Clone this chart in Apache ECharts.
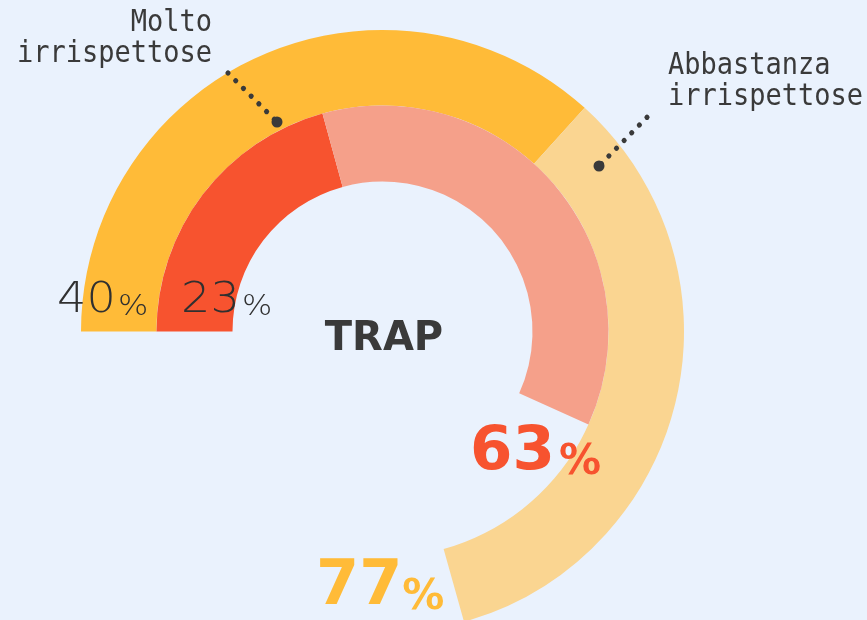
<!DOCTYPE html>
<html>
<head>
<meta charset="utf-8">
<script src="https://cdn.jsdelivr.net/npm/echarts@6/dist/echarts.min.js"></script>
<style>
html,body{margin:0;padding:0;background:#EAF2FD;}
#chart{width:867px;height:620px;}
</style>
</head>
<body>
<div id="chart"></div>
<script>
// Data
var categories = ['Molto irrispettose', 'Abbastanza irrispettose'];
var outerValues = [40, 37];   // outer ring: "Molto" 40%, "Abbastanza" 37% (total 77%)
var innerValues = [23, 40];   // inner ring: "Molto" 23%, "Abbastanza" 40% (total 63%)
var outerScaleMax = 109;      // value that would complete a full circle on outer ring
var innerScaleMax = 111;      // value that would complete a full circle on inner ring
var outerLabels = ['40', '77'];
var innerLabels = ['23', '63'];
var centerTitle = 'TRAP';

var outerColors = ['#FFBB38', '#FAD591'];
var innerColors = ['#F7532F', '#F5A08A'];
var textColor = '#3A3A3A';

function sum(a){return a.reduce(function(s,v){return s+v;},0);}
function ringData(vals, colors, max){
  var d = vals.map(function(v,i){return {name:categories[i], value:v, itemStyle:{color:colors[i]}};});
  d.push({name:'rest', value:max-sum(vals), itemStyle:{color:'rgba(0,0,0,0)'}});
  return d;
}

var cx = 382.5, cy = 331.5;
var chart = echarts.init(document.getElementById('chart'), null, {renderer:'canvas'});

var monoFont = '"DejaVu Sans Mono", monospace';
var thinFont = '"DejaVu Sans", sans-serif';
var boldFont = '"DejaVu Sans", sans-serif';

function thinRich(){
  return {n:{font:'200 42px '+thinFont, fill:'#303030', verticalAlign:'bottom'},
          p:{font:'200 29px '+thinFont, fill:'#303030', verticalAlign:'bottom', padding:[0,0,0,2]}};
}

var graphics = [
  // leader lines
  {type:'line', shape:{x1:228, y1:73, x2:277, y2:122},
   style:{stroke:textColor, lineWidth:5.2, lineCap:'round', lineDash:[0.01, 10.9]}},
  {type:'circle', shape:{cx:277, cy:122, r:5.5}, style:{fill:textColor}},
  {type:'line', shape:{x1:647, y1:117.3, x2:599, y2:166},
   style:{stroke:textColor, lineWidth:5.2, lineCap:'round', lineDash:[0.01, 10.85]}},
  {type:'circle', shape:{cx:599, cy:166, r:5.5}, style:{fill:textColor}},
  // category labels
  {type:'text', x:212, y:8, scaleX:0.9, style:{text:'Molto\nirrispettose', font:'30px '+monoFont, fill:textColor,
    align:'right', verticalAlign:'top', lineHeight:31}},
  {type:'text', x:668, y:51, scaleX:0.9, style:{text:'Abbastanza\nirrispettose', font:'30px '+monoFont, fill:textColor,
    align:'left', verticalAlign:'top', lineHeight:31}},
  // thin percentage labels
  {type:'text', x:57, y:322, scaleX:1.1, style:{
    text:'{n|'+outerLabels[0]+'}{p|%}', verticalAlign:'bottom', align:'left', rich:thinRich()}},
  {type:'text', x:181, y:322, scaleX:1.1, style:{
    text:'{n|'+innerLabels[0]+'}{p|%}', verticalAlign:'bottom', align:'left', rich:thinRich()}},
  // center title
  {type:'text', x:384, y:340, style:{text:centerTitle, font:'bold 40px '+boldFont,
    fill:textColor, align:'center', verticalAlign:'middle'}},
  // bold totals
  {type:'text', x:470, y:484, style:{
    text:'{n|'+innerLabels[1]+'}{p|%}', verticalAlign:'bottom', align:'left',
    rich:{n:{font:'bold 61px '+boldFont, fill:innerColors[0], verticalAlign:'bottom'},
          p:{font:'bold 42px '+boldFont, fill:innerColors[0], verticalAlign:'bottom', padding:[0,0,0,4]}}}},
  {type:'text', x:316, y:619, style:{
    text:'{n|'+outerLabels[1]+'}{p|%}', verticalAlign:'bottom', align:'left',
    rich:{n:{font:'bold 62px '+boldFont, fill:outerColors[0], verticalAlign:'bottom'},
          p:{font:'bold 42px '+boldFont, fill:outerColors[0], verticalAlign:'bottom'}}}}
];
graphics.forEach(function(g){ g.z = 100; g.silent = true; });

var option = {
  backgroundColor: '#EAF2FD',
  animation: false,
  series: [
    {
      type: 'pie', silent: true, z: 1, center: [cx, cy], radius: [226, 301.5],
      startAngle: 180, clockwise: true, label: {show:false}, labelLine:{show:false},
      itemStyle: {borderWidth:0}, emphasis:{disabled:true},
      data: ringData(outerValues, outerColors, outerScaleMax)
    },
    {
      type: 'pie', silent: true, z: 1, center: [cx, cy], radius: [150, 226],
      startAngle: 180, clockwise: true, label: {show:false}, labelLine:{show:false},
      itemStyle: {borderWidth:0}, emphasis:{disabled:true},
      data: ringData(innerValues, innerColors, innerScaleMax)
    }
  ],
  graphic: { elements: graphics }
};
chart.setOption(option);
</script>
</body>
</html>
